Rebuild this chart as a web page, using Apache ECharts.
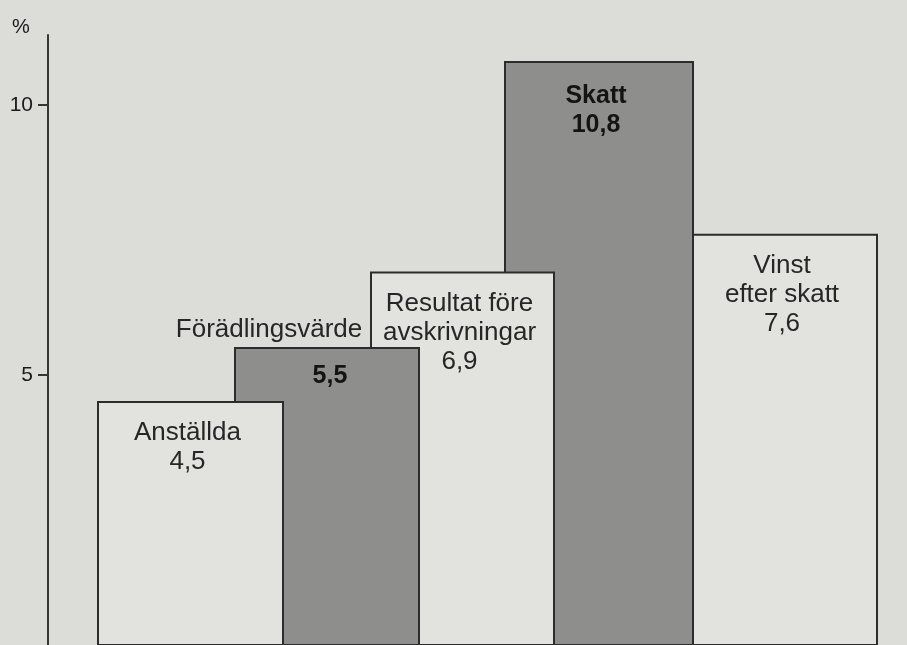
<!DOCTYPE html>
<html>
<head>
<meta charset="utf-8">
<script src="https://cdn.jsdelivr.net/npm/echarts@6/dist/echarts.min.js"></script>
<style>
html,body{margin:0;padding:0;background:#dcdcd9;}
#chart{width:907px;height:645px;}
</style>
</head>
<body>
<div id="chart"></div>
<script>
// ---- data ----
const categories = ['Anställda', 'Förädlingsvärde', 'Resultat före\navskrivningar', 'Skatt', 'Vinst\nefter skatt'];
const values = [4.5, 5.5, 6.9, 10.8, 7.6];
const valueLabels = ['4,5', '5,5', '6,9', '10,8', '7,6'];
const yTickValues = [5, 10];
const unitLabel = '%';

// ---- layout (bar spans along a hidden horizontal axis, overlapping like the original) ----
const barSpans = [[50, 235], [187, 371], [323, 506], [457, 645], [645, 829]];
const shaded = [false, true, false, true, false];

const FONT = '"Liberation Sans", Arial, Helvetica, sans-serif';
const chart = echarts.init(document.getElementById('chart'));

function renderItem(params, api) {
  const i = params.dataIndex;
  const v = api.value(1);
  const span = barSpans[i];
  const p0 = api.coord([span[0], v]);
  const p1 = api.coord([span[1], 0]);
  const x = p0[0], y = p0[1], w = p1[0] - p0[0], h = p1[1] - p0[1];
  const dark = shaded[i];
  // earlier bars lie in front of later ones
  const children = [{
    type: 'rect',
    z2: 20 - 2 * i,
    shape: { x: x, y: y, width: w, height: h },
    style: { fill: dark ? '#8e8e8c' : '#e2e2df', stroke: '#2c2c2c', lineWidth: 2 }
  }];
  const lh = 29;
  if (i === 1) {
    children.push({
      type: 'text', z2: 40,
      style: { x: x + 34, y: y - 18, text: categories[i], align: 'center', verticalAlign: 'middle',
               fill: '#262626', font: '26px ' + FONT }
    });
    children.push({
      type: 'text', z2: 40,
      style: { x: x + w / 2 + 3, y: y + 28, text: valueLabels[i], align: 'center', verticalAlign: 'middle',
               fill: '#141414', font: 'bold 25px ' + FONT }
    });
  } else {
    const txt = categories[i] + '\n' + valueLabels[i];
    children.push({
      type: 'text', z2: 40,
      style: { x: x + w / 2 - 3, y: y + (dark ? 34 : 31) - lh / 2, text: txt, align: 'center', verticalAlign: 'top',
               lineHeight: lh, fill: dark ? '#141414' : '#262626',
               font: (dark ? 'bold 25px ' : '26px ') + FONT }
    });
  }
  return { type: 'group', children: children };
}

chart.setOption({
  backgroundColor: '#dcdcd9',
  animation: false,
  grid: { left: 48, top: 35, width: 859, height: 612 },
  xAxis: { type: 'value', min: 0, max: 859, show: false },
  yAxis: {
    type: 'value', min: 0, max: 11.3, interval: 5,
    axisLine: { show: true, lineStyle: { color: '#353535', width: 2 } },
    axisTick: { show: true, customValues: yTickValues, length: 10, lineStyle: { color: '#353535', width: 2 } },
    axisLabel: { customValues: yTickValues, margin: 15, color: '#1a1a1a', fontSize: 21, fontFamily: FONT },
    splitLine: { show: false }
  },
  graphic: [{
    type: 'text', left: 12, top: 17,
    style: { text: unitLabel, fill: '#1a1a1a', font: '20px ' + FONT }
  }],
  series: [{
    type: 'custom',
    renderItem: renderItem,
    clip: false,
    data: values.map((v, i) => [i, v])
  }]
});
</script>
</body>
</html>
